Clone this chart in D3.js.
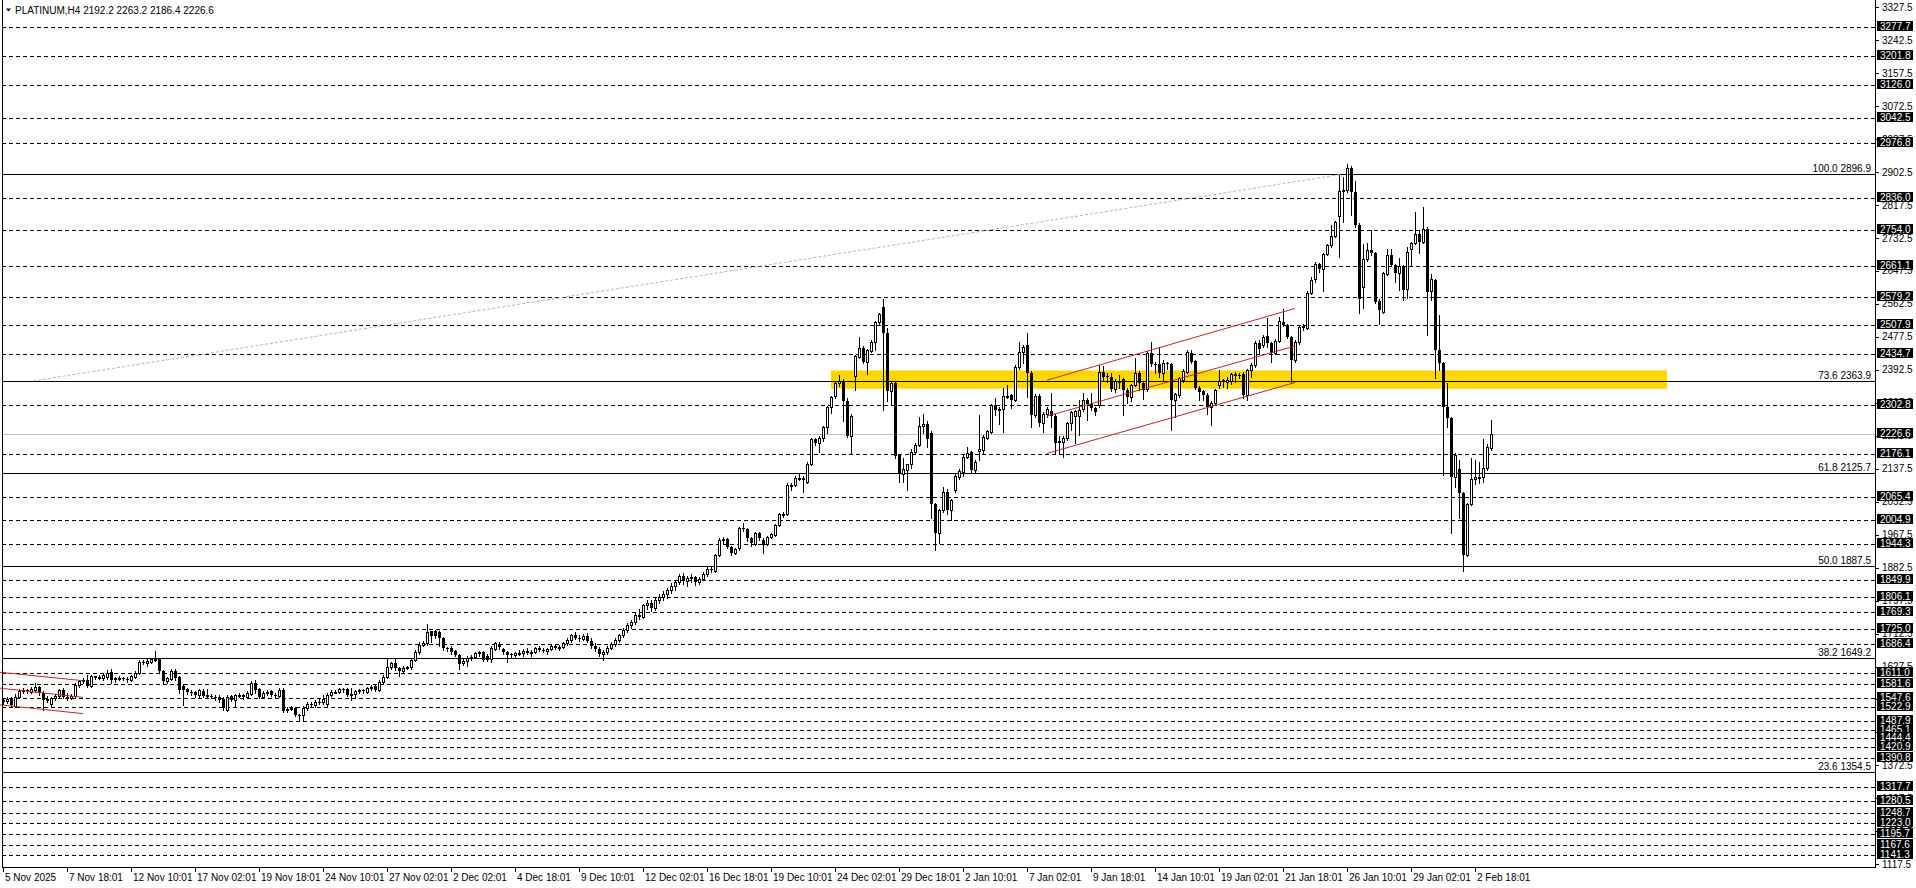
<!DOCTYPE html>
<html>
<head>
<meta charset="utf-8">
<script src="https://cdn.jsdelivr.net/npm/d3@7"></script>
<style>
  body { margin: 0; background: #fff; }
  svg { display: block; }
  text { font-family: "Liberation Sans", Arial, sans-serif; font-size: 10px; }
</style>
</head>
<body>
<svg id="chart" width="1916" height="888"></svg>
<script>
// PLATINUM H4 candles, bar 0 = 5 Nov 2025 02:01
const opens = [
1538,1538,1546,1526,1550,1565,1566,1563,1566,1575,
1560,1540,1530,1547,1552,1568,1550,1546,1552,1580,
1590,1592,1577,1602,1599,1598,1600,1614,1595,1597,
1598,1596,1594,1601,1611,1640,1636,1640,1646,1647,
1615,1590,1596,1616,1600,1578,1570,1562,1562,1555,
1565,1552,1552,1550,1550,1545,1516,1551,1541,1553,
1553,1550,1557,1584,1570,1550,1560,1564,1555,1552,
1567,1516,1518,1521,1503,1503,1520,1530,1528,1537,
1536,1530,1554,1562,1563,1569,1569,1555,1556,1564,
1567,1562,1572,1578,1567,1588,1601,1627,1636,1623,
1616,1624,1626,1645,1664,1683,1688,1718,1718,1716,
1700,1674,1675,1667,1658,1636,1642,1650,1653,1662,
1664,1655,1648,1673,1686,1673,1664,1659,1656,1662,
1663,1668,1662,1666,1674,1671,1668,1672,1680,1676,
1678,1688,1695,1708,1702,1698,1706,1694,1680,1672,
1660,1665,1676,1686,1697,1708,1722,1735,1742,1760,
1756,1785,1792,1778,1800,1808,1815,1826,1835,1845,
1860,1848,1855,1858,1846,1853,1866,1880,1874,1915,
1954,1956,1935,1921,1932,1984,1983,1958,1943,1971,
1954,1943,1961,1967,1993,2018,2022,2093,2096,2113,
2114,2104,2150,2213,2205,2216,2244,2296,2325,2358,
2365,2311,2223,2377,2426,2448,2414,2442,2465,2515,
2554,2488,2339,2358,2173,2125,2134,2149,2180,2199,
2248,2254,2231,2046,1971,2030,2078,2031,2082,2117,
2130,2169,2180,2134,2183,2186,2218,2233,2302,2290,
2291,2325,2327,2315,2401,2439,2457,2385,2276,2325,
2255,2280,2286,2274,2207,2207,2218,2255,2274,2274,
2291,2315,2305,2294,2302,2388,2376,2375,2342,2364,
2368,2341,2322,2354,2384,2358,2342,2435,2407,2407,
2385,2410,2407,2315,2329,2366,2388,2437,2415,2347,
2338,2329,2298,2308,2353,2365,2362,2365,2381,2380,
2382,2328,2392,2405,2462,2457,2480,2461,2437,2468,
2517,2508,2476,2418,2465,2506,2500,2592,2628,2665,
2652,2691,2714,2738,2789,2855,2856,2912,2850,2766,
2607,2678,2702,2693,2571,2543,2640,2689,2663,2643,
2660,2600,2703,2720,2744,2723,2757,2597,2624,2444,
2409,2296,2268,2117,2136,2076,1915,2047,2110,2115,
2117,2139,2192.2
];
const highs = [
1545,1548,1550,1556,1570,1572,1570,1574,1586,1578,
1565,1552,1550,1556,1570,1572,1558,1556,1584,1594,
1597,1605,1606,1604,1605,1610,1618,1620,1601,1603,
1601,1600,1606,1616,1645,1644,1646,1650,1668,1650,
1618,1600,1620,1620,1603,1582,1573,1566,1565,1570,
1570,1570,1556,1553,1554,1548,1553,1555,1557,1560,
1556,1564,1590,1592,1573,1565,1568,1568,1560,1572,
1572,1522,1525,1524,1505,1525,1535,1535,1540,1545,
1553,1558,1566,1568,1573,1572,1572,1572,1568,1570,
1570,1576,1580,1582,1592,1605,1649,1640,1649,1626,
1628,1630,1648,1670,1690,1694,1737,1720,1722,1720,
1703,1678,1680,1670,1660,1647,1654,1656,1665,1668,
1668,1660,1680,1690,1690,1676,1668,1663,1665,1670,
1672,1675,1670,1678,1680,1676,1674,1685,1686,1682,
1692,1700,1712,1716,1710,1712,1714,1700,1688,1678,
1670,1680,1690,1700,1712,1726,1740,1748,1765,1775,
1790,1800,1798,1805,1815,1822,1830,1842,1850,1866,
1868,1860,1865,1862,1858,1872,1884,1885,1918,1960,
1962,1960,1938,1934,1988,1997,1986,1962,1975,1974,
1958,1964,1972,1996,2024,2025,2100,2100,2118,2127,
2118,2154,2218,2216,2222,2248,2300,2326,2362,2380,
2370,2320,2278,2432,2478,2455,2446,2470,2518,2540,
2574,2500,2360,2362,2176,2164,2150,2188,2205,2272,
2280,2260,2235,2050,2034,2091,2085,2060,2125,2138,
2172,2194,2184,2160,2276,2224,2238,2305,2319,2296,
2345,2353,2330,2405,2465,2456,2488,2390,2330,2330,
2285,2297,2334,2278,2222,2222,2258,2286,2290,2314,
2332,2319,2334,2297,2405,2402,2384,2384,2370,2379,
2372,2345,2357,2422,2390,2362,2440,2464,2413,2451,
2418,2413,2411,2334,2375,2396,2445,2445,2418,2351,
2341,2332,2312,2344,2392,2370,2375,2385,2388,2384,
2386,2396,2410,2466,2469,2482,2525,2465,2472,2528,
2549,2512,2480,2470,2508,2510,2596,2633,2670,2668,
2695,2717,2765,2777,2895,2890,2923,2918,2880,2770,
2718,2719,2754,2696,2574,2646,2705,2705,2666,2680,
2663,2710,2723,2800,2753,2812,2760,2641,2628,2534,
2413,2358,2272,2178,2160,2078,2050,2164,2160,2156,
2213,2201,2263.2
];
const lows = [
1530,1533,1524,1522,1546,1560,1558,1558,1562,1555,
1515,1535,1522,1542,1548,1546,1540,1543,1550,1576,
1585,1574,1574,1596,1595,1594,1596,1585,1587,1594,
1592,1588,1590,1598,1608,1634,1630,1636,1642,1610,
1586,1584,1592,1594,1560,1528,1557,1555,1550,1550,
1548,1546,1546,1540,1537,1515,1512,1538,1524,1548,
1545,1546,1553,1560,1546,1547,1555,1551,1546,1548,
1510,1511,1515,1500,1489,1490,1515,1522,1524,1530,
1532,1526,1552,1558,1560,1562,1552,1542,1550,1560,
1560,1558,1568,1565,1564,1585,1598,1622,1619,1604,
1612,1620,1622,1642,1660,1680,1684,1690,1700,1680,
1670,1668,1660,1654,1622,1632,1630,1645,1649,1655,
1642,1642,1640,1670,1672,1660,1640,1652,1652,1658,
1655,1660,1655,1662,1668,1664,1660,1670,1672,1670,
1675,1684,1690,1698,1694,1695,1690,1676,1668,1655,
1645,1660,1672,1680,1692,1704,1716,1726,1738,1750,
1752,1775,1770,1774,1792,1798,1805,1818,1826,1840,
1840,1836,1845,1838,1840,1850,1860,1870,1870,1912,
1946,1932,1915,1918,1928,1978,1950,1938,1940,1955,
1919,1940,1958,1964,1990,2014,2018,2082,2092,2108,
2078,2100,2146,2200,2181,2210,2230,2282,2320,2350,
2261,2220,2177,2340,2422,2410,2382,2438,2443,2510,
2290,2313,2302,2165,2104,2104,2083,2140,2176,2195,
2229,2194,2010,1928,1945,2026,2020,2005,2078,2112,
2118,2165,2130,2128,2160,2178,2213,2230,2276,2254,
2233,2320,2293,2312,2396,2409,2323,2244,2270,2248,
2233,2272,2246,2177,2175,2167,2212,2237,2203,2224,
2287,2262,2290,2276,2298,2366,2362,2339,2336,2345,
2276,2308,2311,2350,2341,2317,2338,2402,2384,2375,
2366,2396,2237,2271,2323,2362,2385,2410,2344,2316,
2314,2280,2250,2305,2347,2349,2347,2356,2362,2372,
2320,2315,2375,2400,2433,2452,2452,2413,2433,2464,
2505,2474,2358,2413,2460,2496,2498,2588,2620,2645,
2596,2688,2710,2735,2684,2775,2852,2792,2762,2540,
2551,2674,2688,2565,2512,2540,2636,2660,2620,2599,
2573,2577,2660,2717,2693,2720,2482,2573,2371,2392,
2121,2246,1973,2091,2010,1875,1912,2044,2099,2102,
2104,2135,2186.4
];
const closes = [
1541,1543,1528,1550,1565,1567,1564,1569,1575,1560,
1540,1545,1547,1552,1566,1550,1546,1552,1580,1590,
1593,1578,1603,1599,1601,1606,1612,1594,1597,1599,
1597,1594,1603,1612,1640,1638,1642,1646,1647,1615,
1590,1597,1616,1597,1567,1566,1562,1560,1555,1566,
1551,1553,1550,1549,1541,1520,1550,1541,1553,1554,
1550,1560,1584,1567,1550,1560,1562,1555,1554,1567,
1514,1518,1521,1503,1502,1520,1530,1528,1537,1536,
1545,1554,1562,1563,1569,1566,1555,1557,1564,1567,
1565,1572,1576,1568,1588,1601,1627,1636,1623,1615,
1624,1626,1645,1665,1683,1688,1716,1706,1705,1700,
1674,1672,1664,1657,1635,1643,1650,1653,1662,1665,
1645,1645,1675,1687,1677,1665,1658,1657,1662,1663,
1668,1662,1666,1674,1671,1668,1672,1680,1676,1678,
1688,1695,1708,1702,1698,1706,1694,1680,1672,1660,
1665,1676,1686,1697,1708,1722,1735,1742,1760,1756,
1785,1792,1778,1800,1808,1815,1826,1835,1845,1860,
1848,1855,1858,1846,1853,1866,1880,1876,1915,1954,
1956,1937,1921,1930,1984,1983,1958,1945,1971,1958,
1941,1961,1968,1993,2020,2020,2096,2096,2114,2114,
2109,2150,2213,2205,2218,2244,2296,2322,2358,2365,
2311,2223,2273,2428,2448,2414,2443,2465,2515,2536,
2487,2339,2358,2171,2127,2138,2149,2180,2200,2248,
2254,2213,2046,1971,2030,2077,2031,2057,2119,2132,
2169,2179,2134,2156,2188,2220,2235,2302,2289,2291,
2325,2326,2315,2401,2439,2452,2384,2276,2325,2255,
2280,2291,2274,2203,2208,2218,2255,2283,2286,2289,
2315,2305,2293,2285,2388,2375,2375,2342,2364,2358,
2341,2322,2354,2384,2358,2341,2435,2407,2406,2385,
2411,2408,2316,2330,2371,2390,2439,2414,2347,2336,
2328,2298,2308,2341,2364,2366,2366,2381,2382,2379,
2328,2392,2405,2462,2446,2476,2461,2437,2468,2519,
2508,2478,2418,2465,2504,2500,2592,2624,2665,2652,
2691,2714,2738,2775,2855,2857,2912,2850,2766,2574,
2678,2702,2693,2568,2547,2643,2689,2663,2643,2660,
2598,2697,2720,2744,2723,2757,2594,2626,2444,2409,
2296,2268,2117,2173,2076,1915,2047,2110,2117,2116,
2139,2194,2226.6
];

const dateLabels = ["5 Nov 2025","7 Nov 18:01","12 Nov 10:01","17 Nov 02:01","19 Nov 18:01",
  "24 Nov 10:01","27 Nov 02:01","2 Dec 02:01","4 Dec 18:01","9 Dec 10:01","12 Dec 02:01",
  "16 Dec 18:01","19 Dec 10:01","24 Dec 02:01","29 Dec 18:01","2 Jan 10:01","7 Jan 02:01",
  "9 Jan 18:01","14 Jan 10:01","19 Jan 02:01","21 Jan 18:01","26 Jan 10:01","29 Jan 02:01","2 Feb 18:01"];
const dateBars = [0,16,32,48,64,80,96,112,128,144,160,176,192,208,224,240,256,272,288,304,320,336,352,368];

const priceTicks = [3327.5,3242.5,3157.5,3072.5,2987.5,2902.5,2817.5,2732.5,2647.5,2562.5,2477.5,
  2392.5,2307.5,2222.5,2137.5,2052.5,1967.5,1882.5,1797.5,1712.5,1627.5,1542.5,1457.5,1372.5,
  1287.5,1202.5,1117.5];

const levelPrices = [3277.7,3201.8,3126.0,3042.5,2976.8,2836.0,2754.0,2661.1,2579.2,2507.9,2434.7,
  2302.8,2176.1,2065.4,2004.9,1944.3,1849.9,1806.1,1769.3,1725.0,1686.4,1611.0,1581.6,1547.6,
  1522.9,1487.9,1465.1,1444.4,1420.9,1390.8,1317.7,1280.5,1248.7,1223.0,1195.7,1167.6,1141.3];

const fibNames = ["100.0","73.6","61.8","50.0","38.2","23.6"];
const fibPrices = [2896.9,2363.9,2125.7,1887.5,1649.2,1354.5];

const lastPrice = 2226.6;
const titleText = "PLATINUM,H4  2192.2 2263.2 2186.4 2226.6";

// supply/demand zone [fromBar, toBar, lowPrice, highPrice]
const zone = [207, 416, 2344, 2391];
// channels: each line is [[bar, price], [bar, price]]
const channelStart = [
  [[-1, 1613], [20, 1591]],
  [[-1, 1572], [20, 1548]],
  [[-1, 1529], [20, 1506]]
];
const channelJan = [
  [[261, 2366], [323, 2551]],
  [[261, 2273], [323, 2454]],
  [[261, 2177], [323, 2360]]
];
const fiboTrend = [[7.5, 2363.9], [334.75, 2896.9]];

document.addEventListener("DOMContentLoaded", setup);

function setup(){
    const plotRight = 1875;
    const plotBottom = 867;
    const svg = d3.select("#chart");

    const x = d3.scaleLinear().domain([0, 468]).range([3, plotRight]);
    const y = d3.scaleLinear().domain([1117.5, 3327.5]).range([864.3, 7.3]);
    const py = p => Math.round(y(p)) + 0.5;

    svg.append("rect").attr("width", 1916).attr("height", 888).attr("fill", "#fff");

    const plot = svg.append("g");

    // yellow zone in background
    plot.append("rect")
        .attr("x", x(zone[0]))
        .attr("y", y(zone[3]))
        .attr("width", Math.min(x(zone[1]), plotRight) - x(zone[0]))
        .attr("height", y(zone[2]) - y(zone[3]))
        .attr("fill", "#ffd700");

    // dashed levels
    plot.append("g").selectAll("line")
        .data(levelPrices)
        .enter().append("line")
        .attr("x1", 2).attr("x2", plotRight)
        .attr("y1", d => py(d)).attr("y2", d => py(d))
        .attr("stroke", "#000")
        .attr("stroke-dasharray", "4,3");

    // fibonacci levels
    const fib = plot.append("g");
    fib.selectAll("line")
        .data(fibPrices)
        .enter().append("line")
        .attr("x1", 2).attr("x2", plotRight)
        .attr("y1", d => py(d)).attr("y2", d => py(d))
        .attr("stroke", "#000");
    fib.selectAll("text")
        .data(fibPrices)
        .enter().append("text")
        .attr("x", plotRight - 4)
        .attr("y", d => py(d) - 3)
        .attr("text-anchor", "end")
        .attr("fill", "#000")
        .text((d, i) => fibNames[i] + " " + d.toFixed(1));

    // current price line
    plot.append("line")
        .attr("x1", 2).attr("x2", plotRight)
        .attr("y1", py(lastPrice)).attr("y2", py(lastPrice))
        .attr("stroke", "#c0c0c0");

    // candles
    const bars = d3.range(opens.length);
    const candles = plot.append("g");
    candles.selectAll("line")
        .data(bars)
        .enter().append("line")
        .attr("x1", i => Math.round(x(i)) + 0.5)
        .attr("x2", i => Math.round(x(i)) + 0.5)
        .attr("y1", i => Math.round(y(highs[i])))
        .attr("y2", i => Math.round(y(lows[i])) + 1)
        .attr("stroke", "#000");
    candles.selectAll("rect")
        .data(bars)
        .enter().append("rect")
        .each(function(i){
            const cx = Math.round(x(i));
            const yo = Math.round(y(opens[i]));
            const yc = Math.round(y(closes[i]));
            const r = d3.select(this);
            if (closes[i] > opens[i]) {
                r.attr("x", cx - 0.5).attr("y", yc + 0.5)
                 .attr("width", 2).attr("height", Math.max(yo - yc, 1))
                 .attr("fill", "#fff").attr("stroke", "#000");
            } else {
                r.attr("x", cx - 1).attr("y", yo)
                 .attr("width", 3).attr("height", Math.max(yc - yo, 1))
                 .attr("fill", "#000");
            }
        });

    // channels
    const line = d3.line().x(d => x(d[0])).y(d => y(d[1]));
    plot.append("g").selectAll("path")
        .data(channelStart.concat(channelJan))
        .enter().append("path")
        .attr("d", line)
        .attr("fill", "none")
        .attr("stroke", "#c0262d");

    // fibo trend line
    plot.append("path")
        .attr("d", line(fiboTrend))
        .attr("fill", "none")
        .attr("stroke", "#b4b4b4")
        .attr("stroke-dasharray", "3,2");

    // frame
    svg.append("line").attr("x1", 2.5).attr("x2", 2.5).attr("y1", 0).attr("y2", plotBottom + 0.5).attr("stroke", "#000");
    svg.append("line").attr("x1", plotRight + 0.5).attr("x2", plotRight + 0.5).attr("y1", 0).attr("y2", plotBottom + 0.5).attr("stroke", "#000");
    svg.append("line").attr("x1", 2).attr("x2", plotRight + 1).attr("y1", plotBottom + 0.5).attr("y2", plotBottom + 0.5).attr("stroke", "#000");

    // time axis
    const tAxis = svg.append("g");
    tAxis.selectAll("line")
        .data(dateBars)
        .enter().append("line")
        .attr("x1", d => Math.round(x(d)) + 0.5).attr("x2", d => Math.round(x(d)) + 0.5)
        .attr("y1", plotBottom).attr("y2", plotBottom + 5)
        .attr("stroke", "#000");
    tAxis.selectAll("text")
        .data(dateBars)
        .enter().append("text")
        .attr("x", d => Math.round(x(d)) + 2)
        .attr("y", plotBottom + 14)
        .attr("fill", "#000")
        .text((d, i) => dateLabels[i]);

    // price axis
    const pAxis = svg.append("g");
    pAxis.selectAll("line")
        .data(priceTicks)
        .enter().append("line")
        .attr("x1", plotRight).attr("x2", plotRight + 4)
        .attr("y1", d => py(d)).attr("y2", d => py(d))
        .attr("stroke", "#000");
    pAxis.selectAll("text")
        .data(priceTicks)
        .enter().append("text")
        .attr("x", plotRight + 7)
        .attr("y", d => y(d))
        .attr("dy", "0.35em")
        .attr("fill", "#000")
        .text(d => d.toFixed(1));

    // boxed labels for levels and the last price
    const boxed = levelPrices.concat([lastPrice]);
    const boxes = svg.append("g").selectAll("g")
        .data(boxed)
        .enter().append("g")
        .attr("transform", d => "translate(" + (plotRight + 2) + "," + (Math.round(y(d)) - 6) + ")");
    boxes.append("rect")
        .attr("width", 36).attr("height", 10)
        .attr("fill", "#000");
    boxes.append("text")
        .attr("x", 3).attr("y", 5)
        .attr("dy", "0.35em")
        .attr("fill", "#fff")
        .text(d => d.toFixed(1));

    // title
    svg.append("path")
        .attr("d", "M6,8.5 L11,8.5 L8.5,11.5 Z")
        .attr("fill", "#000");
    svg.append("text")
        .attr("x", 15).attr("y", 10).attr("dy", "0.35em")
        .attr("fill", "#000")
        .text(titleText);
}
</script>
</body>
</html>
